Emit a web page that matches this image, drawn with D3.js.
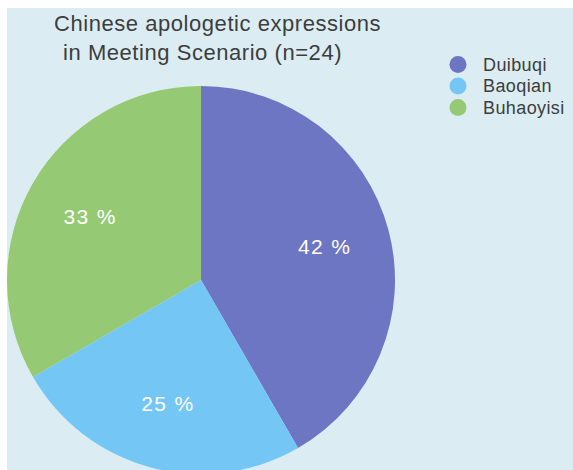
<!DOCTYPE html>
<html>
<head>
<meta charset="utf-8">
<script src="https://cdn.jsdelivr.net/npm/d3@7"></script>
<style>
  html, body { margin: 0; padding: 0; background: #ffffff; }
  svg { display: block; }
</style>
</head>
<body>
<svg id="chart" width="573" height="470"></svg>
<script>
const categories = ["Duibuqi", "Baoqian", "Buhaoyisi"];
const counts = [10, 6, 8];
const percentLabels = ["42 %", "25 %", "33 %"];
const colors = ["#6d76c3", "#74c6f5", "#95c973"];
const titleLines = ["Chinese apologetic expressions", "in Meeting Scenario (n=24)"];

const svg = d3.select("#chart");
const W = 573, H = 470;
const font = "'Liberation Sans', Arial, Helvetica, sans-serif";

svg.append("rect").attr("x", 7).attr("y", 8).attr("width", W - 7).attr("height", H - 8)
  .attr("fill", "#dbedf3");

const cx = 201, cy = 280, R = 194;
const pie = d3.pie().sort(null).value(d => d)(counts);
const arc = d3.arc().innerRadius(0).outerRadius(R);
const labelArc = d3.arc().innerRadius(R * 0.66).outerRadius(R * 0.66);

const g = svg.append("g").attr("transform", `translate(${cx},${cy})`);
g.selectAll("path.slice").data(pie).enter().append("path")
  .attr("class", "slice")
  .attr("d", arc)
  .attr("fill", (d, i) => colors[i]);

g.selectAll("text.pct").data(pie).enter().append("text")
  .attr("class", "pct")
  .attr("transform", d => `translate(${labelArc.centroid(d)})`)
  .attr("text-anchor", "middle")
  .attr("dy", "0.36em")
  .attr("fill", "#ffffff")
  .attr("font-family", font)
  .attr("font-size", 21)
  .attr("letter-spacing", 1.4)
  .text((d, i) => percentLabels[i]);

// title
const titleX = [54, 63], titleY = [31, 60];
svg.selectAll("text.title").data(titleLines).enter().append("text")
  .attr("class", "title")
  .attr("x", (d, i) => titleX[i])
  .attr("y", (d, i) => titleY[i])
  .attr("fill", "#3d3d3d")
  .attr("font-family", font)
  .attr("font-size", 22)
  .attr("letter-spacing", 0.55)
  .text(d => d);

// legend
const legY = d3.scalePoint().domain(categories).range([64.5, 107.5]);
const leg = svg.selectAll("g.leg").data(categories).enter().append("g")
  .attr("class", "leg")
  .attr("transform", d => `translate(458,${legY(d)})`);
leg.append("circle").attr("r", 8.5).attr("fill", (d, i) => colors[i]);
leg.append("text")
  .attr("x", 25)
  .attr("dy", "0.36em")
  .attr("fill", "#3d3d3d")
  .attr("font-family", font)
  .attr("font-size", 18)
  .attr("letter-spacing", 0.4)
  .text(d => d);
</script>
</body>
</html>
